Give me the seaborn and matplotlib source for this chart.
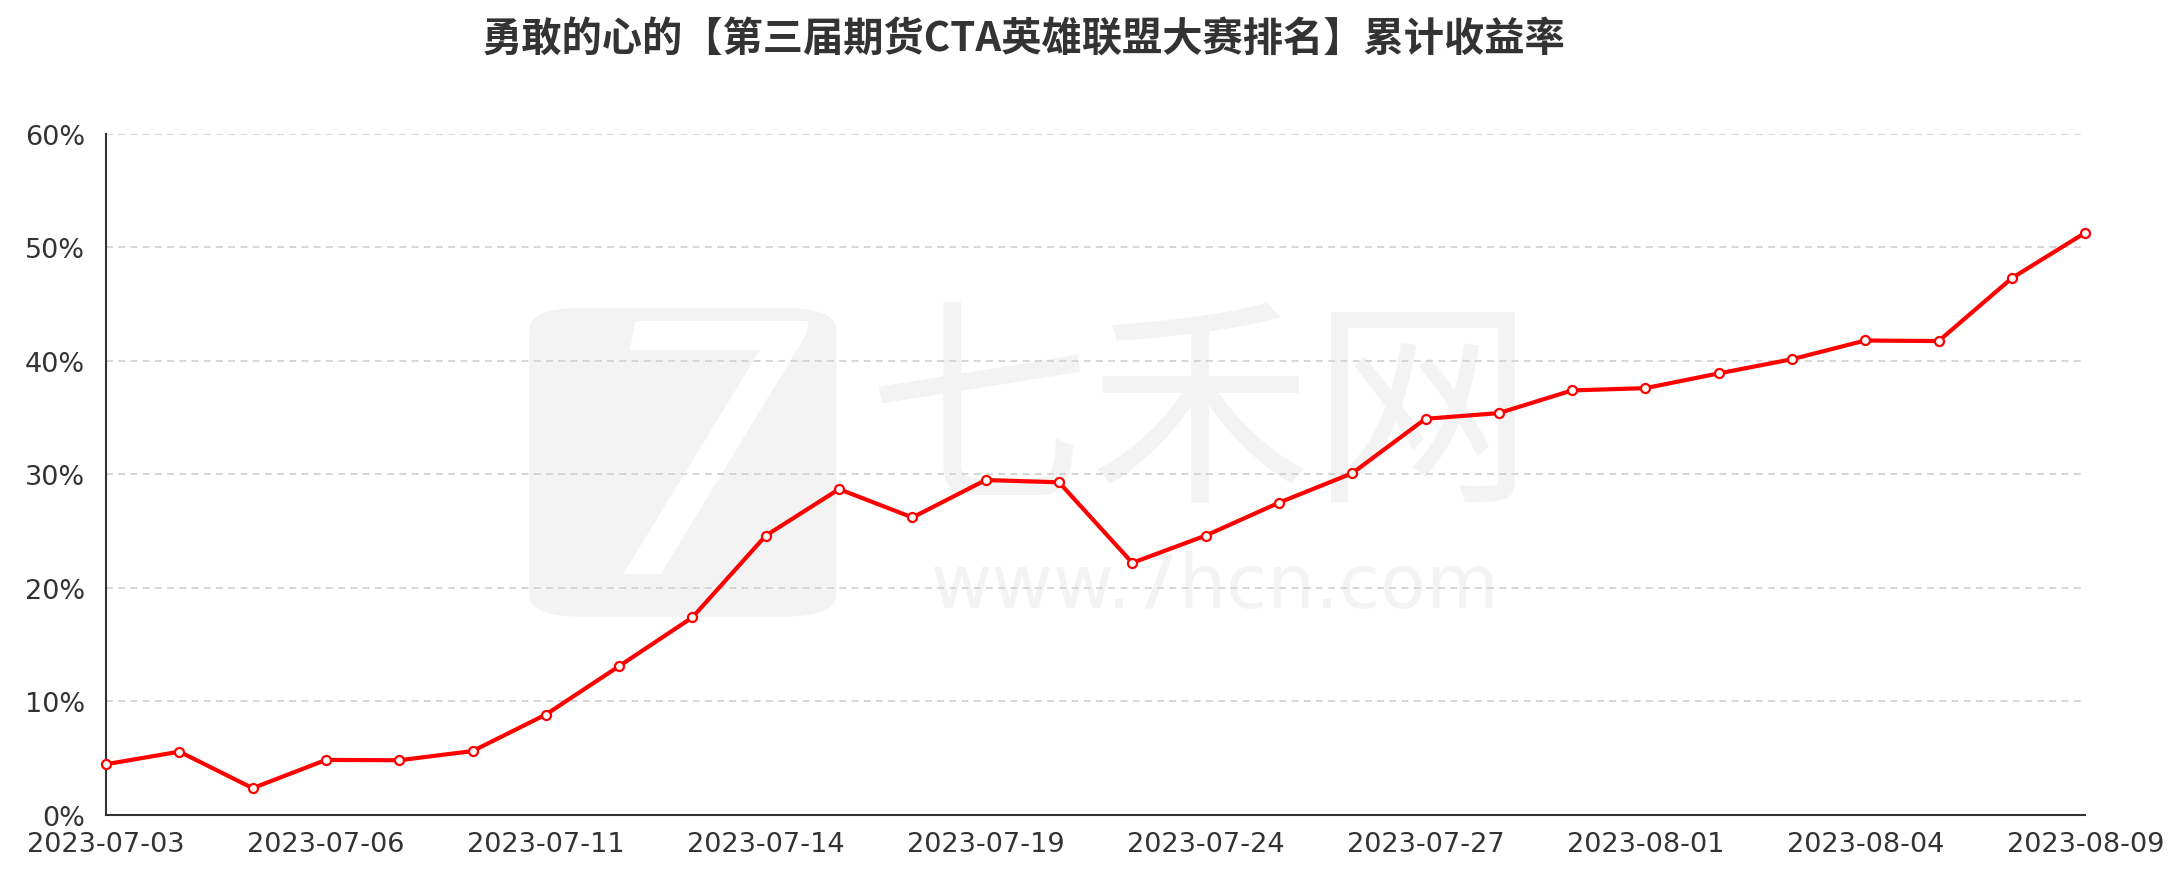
#%% read the lib
import matplotlib
matplotlib.use("Agg")
import matplotlib.pyplot as plt
from matplotlib.patches import FancyBboxPatch
import seaborn as sns
import pandas as pd

#%% data
dates = ["2023-07-03", "2023-07-04", "2023-07-05", "2023-07-06", "2023-07-07",
         "2023-07-10", "2023-07-11", "2023-07-12", "2023-07-13", "2023-07-14",
         "2023-07-17", "2023-07-18", "2023-07-19", "2023-07-20", "2023-07-21",
         "2023-07-24", "2023-07-25", "2023-07-26", "2023-07-27", "2023-07-28",
         "2023-07-31", "2023-08-01", "2023-08-02", "2023-08-03", "2023-08-04",
         "2023-08-07", "2023-08-08", "2023-08-09"]
returns = [4.45, 5.56, 2.34, 4.83, 4.80, 5.61, 8.83, 13.1, 17.4, 24.6,
           28.7, 26.2, 29.5, 29.3, 22.2, 24.6, 27.5, 30.1, 34.9, 35.4,
           37.4, 37.6, 38.9, 40.15, 41.8, 41.75, 47.3, 51.3]
y_ticks = [0, 10, 20, 30, 40, 50, 60]
title = "勇敢的心的【第三届期货CTA英雄联盟大赛排名】累计收益率"

df = pd.DataFrame({"date": dates, "ret": returns})
df["idx"] = range(len(df))

#%% style
sns.set_style("white")
plt.rcParams["font.family"] = ["DejaVu Sans", "Noto Sans CJK SC"]

fig = plt.figure(figsize=(21.78, 8.70), dpi=100)
ax = fig.add_axes([0.0487, 0.0624, 0.9087, 0.7824])
ax.patch.set_alpha(0)
ax.set_zorder(2)

# watermark (behind the axes)
wm = "#f3f3f3"
logo = FancyBboxPatch((0.243, 0.29), 0.141, 0.355, boxstyle="round,pad=0,rounding_size=0.025",
                      transform=fig.transFigure, facecolor=wm, edgecolor="none", zorder=0)
fig.patches.append(logo)
fig.text(0.322, 0.45, "7", color="white", fontsize=250, fontstyle="italic",
         ha="center", va="center", family="DejaVu Sans", zorder=0.5)
fig.text(0.551, 0.515, "七禾网", color=wm, fontsize=160, ha="center", va="center",
         family=["Noto Sans CJK SC"], zorder=0.5)
fig.text(0.558, 0.325, "www.7hcn.com", color=wm, fontsize=54, ha="center", va="center",
         family=["DejaVu Sans"], zorder=0.5)

sns.lineplot(data=df, x="idx", y="ret", ax=ax, color="#ff0000", linewidth=3.0,
             marker="o", markersize=6.5, markerfacecolor="white", markeredgecolor="#ff0000",
             markeredgewidth=1.6, zorder=5, clip_on=False)

ax.set_xlim(0, len(dates) - 1)
ax.set_ylim(0, 60)
ax.set_xticks(df["idx"][::3])
ax.set_xticklabels(df["date"][::3])
ax.set_yticks(y_ticks)
ax.set_yticklabels([f"{t}%" for t in y_ticks])
ax.set_xlabel("")
ax.set_ylabel("")

ax.yaxis.grid(True, color="#cccccc", linestyle=(0, (4.5, 3.5)), linewidth=1.1)
ax.set_axisbelow(True)
for s in ["top", "right"]:
    ax.spines[s].set_visible(False)
for s in ["left", "bottom"]:
    ax.spines[s].set_color("#333333")
    ax.spines[s].set_linewidth(1.5)
ax.tick_params(axis="both", colors="#333333", labelcolor="#333333", width=1.5,
               labelsize=19.5, direction="out")
ax.tick_params(axis="x", length=7, pad=5)
ax.tick_params(axis="y", length=8, pad=7)

fig.text(0.470, 0.954, title, ha="center", va="center", fontsize=29, fontweight="bold",
         color="#333333", family=["Noto Sans CJK SC", "DejaVu Sans"])

fig.savefig("out.png", dpi=100)
